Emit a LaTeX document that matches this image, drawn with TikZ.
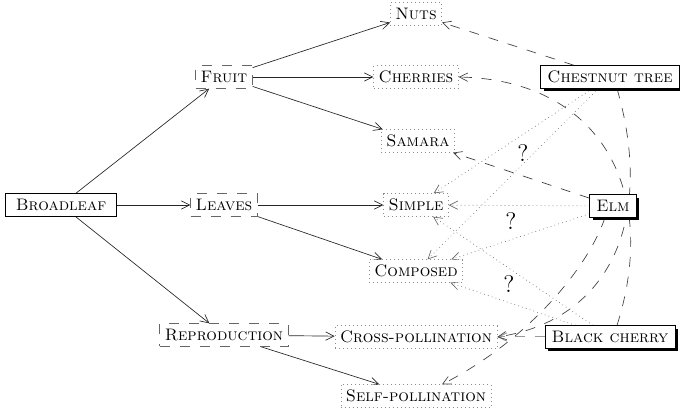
\documentclass[tikz,border=0pt]{standalone}
\usetikzlibrary{arrows.meta,shadows,backgrounds,calc}
\begin{document}
\begin{tikzpicture}[x=0.6pt,y=-0.6pt,
  base/.style={rectangle, minimum height=13.6pt, inner xsep=3pt, inner ysep=2pt, font=\scshape, fill=white},
  root/.style={base, draw=black, inner xsep=6pt},
  cat/.style={base, draw=black!60, dash pattern=on 6pt off 6pt},
  val/.style={base, draw=black!45, dotted},
  inst/.style={base, draw=black, inner xsep=4pt, drop shadow={fill=black, opacity=1, shadow xshift=1.8pt, shadow yshift=-1.8pt}},
  solidarrow/.style={->, draw=black!85},
  dasharrow/.style={->, draw=black!75, dash pattern=on 6pt off 6pt},
  dotarrow/.style={->, draw=black!60, dotted},
  qmark/.style={font=\Large, inner sep=0pt},
  >={Straight Barb[length=5pt,width=5pt]},
]
\useasboundingbox (0,0) rectangle (680,410);
\node[root] (broad) at (61,205) {Broadleaf};
\node[cat] (fruit) at (224,77) {Fruit};
\node[cat] (leaves) at (224,205) {Leaves};
\node[cat] (repro) at (224,335) {Reproduction};
\node[val] (nuts) at (416,14) {Nuts};
\node[val] (cherries) at (416,77) {Cherries};
\node[val] (samara) at (418,141) {Samara};
\node[val] (simple) at (416,205) {Simple};
\node[val] (composed) at (416,271) {Composed};
\node[val] (cross) at (416,337) {Cross-pollination};
\node[val] (self) at (416,396) {Self-pollination};
\node[inst] (chestnut) at (610,77) {Chestnut tree};
\node[inst] (elm) at (613,206) {Elm};
\node[inst] (bcherry) at (610,337) {Black cherry};
\node[qmark] (q1) at (523,153) {?};
\node[qmark] (q2) at (511,221) {?};
\node[qmark] (q3) at (509,284) {?};
\begin{scope}[on background layer]
\draw[solidarrow] (broad) -- (fruit);
\draw[solidarrow] (broad) -- (leaves);
\draw[solidarrow] (broad) -- (repro);
\draw[solidarrow] (fruit) -- (nuts);
\draw[solidarrow] (fruit) -- (cherries);
\draw[solidarrow] (fruit) -- (samara);
\draw[solidarrow] (leaves) -- (simple);
\draw[solidarrow] (leaves) -- (composed);
\draw[solidarrow] (repro) -- (cross);
\draw[solidarrow] (repro) -- (self);
\draw[dasharrow] (chestnut) -- (nuts);
\draw[dasharrow] (elm) -- (samara);
\draw[dasharrow, draw=black!40, semithick] (bcherry) -- (cross);
\draw[dasharrow] ($(bcherry.north)+(7,0)$) .. controls (660,190) and (600,80) .. (cherries.east);
\draw[dasharrow] ($(chestnut.south)+(7,0)$) .. controls (655,220) and (610,320) .. (cross.east);
\draw[dasharrow] ($(elm.south)+(-8,0)$) .. controls (585,275) and (520,345) .. ($(self.north)+(26,0)$);
\draw[dotarrow] (chestnut) -- (simple);
\draw[dotarrow] (chestnut) -- (composed);
\draw[dotarrow] (elm) -- (simple);
\draw[dotarrow] (elm) -- (composed);
\draw[dotarrow] (bcherry) -- (simple);
\draw[dotarrow] (bcherry) -- (composed);
\end{scope}
\end{tikzpicture}
\end{document}
